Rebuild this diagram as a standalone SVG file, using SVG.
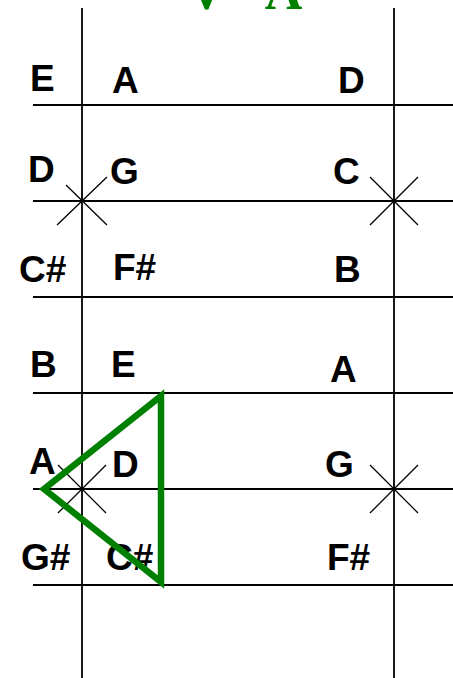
<svg xmlns="http://www.w3.org/2000/svg" width="453" height="678" viewBox="0 0 453 678">
<style>
.ln{stroke:#000;stroke-width:1.8;fill:none}
.x{stroke:#000;stroke-width:1.3;fill:none}
.lb{font-family:"Liberation Sans",Arial,sans-serif;font-weight:bold;font-size:37px;fill:#000}
.tt{font-family:"Liberation Serif","Times New Roman",serif;font-weight:bold;font-size:52px;fill:#008000}
</style>
<rect width="453" height="678" fill="#fff"/>
<g id="title"><text class="tt" x="245" y="9" text-anchor="middle">V - A</text></g>
<g id="grid">
<line class="ln" x1="82" y1="8" x2="82" y2="678"/>
<line class="ln" x1="394" y1="8" x2="394" y2="678"/>
<line class="ln" x1="33" y1="105" x2="453" y2="105"/>
<line class="ln" x1="33" y1="201" x2="453" y2="201"/>
<line class="ln" x1="33" y1="297" x2="453" y2="297"/>
<line class="ln" x1="33" y1="393" x2="453" y2="393"/>
<line class="ln" x1="33" y1="489" x2="453" y2="489"/>
<line class="ln" x1="33" y1="585" x2="453" y2="585"/>
</g>
<g id="crosses">
<path class="x" d="M66,185L107,225M57,225L107,177"/>
<path class="x" d="M370,177L418,225M370,225L418,177"/>
<path class="x" d="M58,465L106,513M58,513L106,465"/>
<path class="x" d="M370,465L418,513M370,513L418,465"/>
</g>
<g id="labels">
<text class="lb" x="30" y="91">E</text>
<text class="lb" x="112" y="93">A</text>
<text class="lb" x="338" y="93">D</text>
<text class="lb" x="28" y="182">D</text>
<text class="lb" x="110" y="184">G</text>
<text class="lb" x="333" y="184">C</text>
<text class="lb" x="19" y="282">C#</text>
<text class="lb" x="113" y="280">F#</text>
<text class="lb" x="334" y="282">B</text>
<text class="lb" x="30" y="377">B</text>
<text class="lb" x="111" y="377">E</text>
<text class="lb" x="330" y="382">A</text>
<text class="lb" x="29" y="474">A</text>
<text class="lb" x="112" y="477">D</text>
<text class="lb" x="325" y="477">G</text>
<text class="lb" x="21" y="570">G#</text>
<text class="lb" x="106" y="570">C#</text>
<text class="lb" x="327" y="570">F#</text>
</g>
<g id="triangle"><polygon points="44,489 161,396 161,582" fill="none" stroke="#008000" stroke-width="6.5"/></g>
</svg>
